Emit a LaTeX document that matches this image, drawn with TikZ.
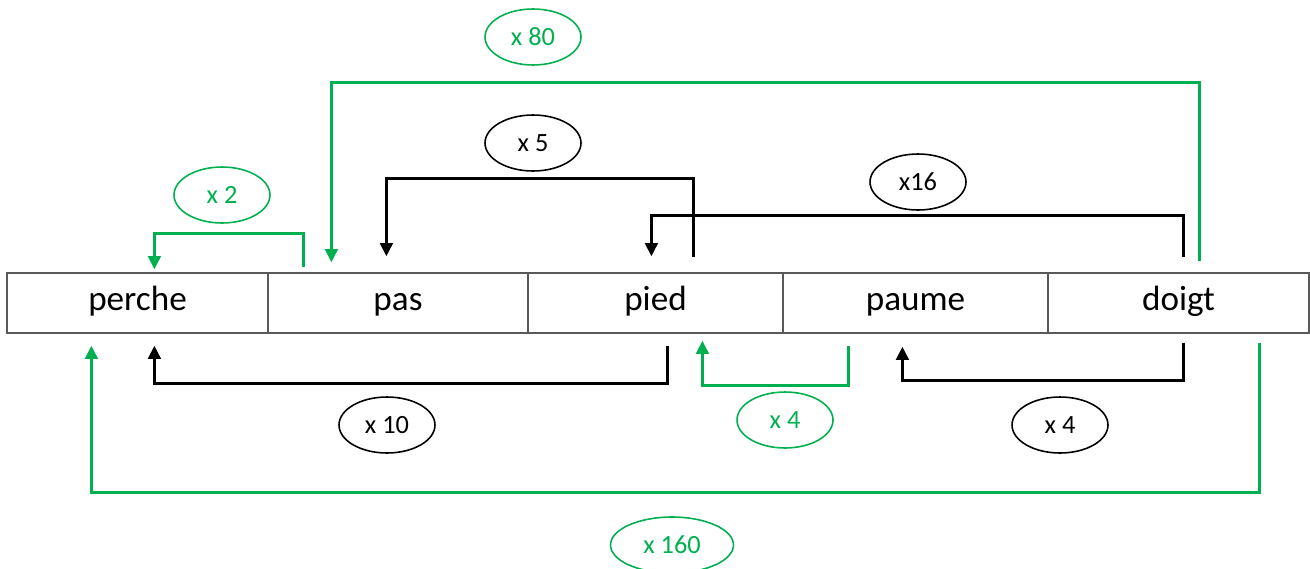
\documentclass[tikz,border=0pt]{standalone}
\usepackage{fontspec}
\setmainfont{Carlito}
\usetikzlibrary{calc,arrows.meta,shapes.geometric}
\definecolor{offgreen}{HTML}{00B050}
\definecolor{cellgray}{HTML}{595959}
\tikzset{
  cell/.style={draw=cellgray, line width=0.7pt, minimum height=1.2cm, inner sep=0pt, text height=0.98em, text depth=0.18em, font=\fontsize{20}{24}\selectfont},
  lbl/.style={ellipse, draw, line width=0.9pt, minimum width=1.92cm, minimum height=1.12cm, inner sep=0pt, font=\fontsize{15}{18}\selectfont},
  glbl/.style={lbl, draw=offgreen, text=offgreen},
  conn/.style={line width=2pt, -{Triangle[length=7.5pt,width=7pt]}},
  bconn/.style={conn, black},
  gconn/.style={conn, offgreen},
}
\begin{document}
\begin{tikzpicture}[x=0.02cm, y=-0.02cm]
\useasboundingbox (0,0) rectangle (1310,568);
% cells
\node[cell, minimum width=5.22cm] (perche) at (137.5,303) {perche};
\node[cell, minimum width=5.2cm]  (pas)    at (398,303) {pas};
\node[cell, minimum width=5.1cm]  (pied)   at (655.5,303) {pied};
\node[cell, minimum width=5.3cm]  (paume)  at (915.5,303) {paume};
\node[cell, minimum width=5.22cm] (doigt)  at (1178.5,303) {doigt};
% labels
\node[glbl] (l2)   at (222,195) {x 2};
\node[glbl] (l80)  at (533,37)  {x 80};
\node[lbl]  (l5)   at (533,143) {x 5};
\node[lbl]  (l16)  at (918,182) {x16};
\node[lbl]  (l10)  at (387,425) {x 10};
\node[glbl] (lg4)  at (785,420) {x 4};
\node[lbl]  (lb4)  at (1060,425) {x 4};
\node[glbl, minimum width=2.46cm] (l160) at (672,545) {x 160};
% connectors above
\draw[gconn] ($(pas.north west)+(36,-5)$) -- ++(0,-34) -| ($(perche.north west)+(148,-3)$);
\draw[gconn] ($(doigt.north west)+(152,-11)$) -- ++(0,-179) -| ($(pas.north west)+(64,-10)$);
\draw[bconn] ($(pied.north west)+(166,-15)$) -- ++(0,-79) -| ($(pas.north west)+(119,-16)$);
\draw[bconn] ($(doigt.north west)+(136,-15)$) -- ++(0,-42) -| ($(pied.north west)+(124,-16)$);
% connectors below
\draw[bconn] ($(pied.south west)+(140,12)$) -- ++(0,38) -| ($(perche.south west)+(148,12)$);
\draw[gconn] ($(paume.south west)+(66,12)$) -- ++(0,40) -| ($(pied.south west)+(175,7)$);
\draw[bconn] ($(doigt.south west)+(136,9)$) -- ++(0,38) -| ($(paume.south west)+(120,13)$);
\draw[gconn] ($(doigt.south west)+(212,9)$) -- ++(0,150) -| ($(perche.south west)+(85,12)$);
\end{tikzpicture}
\end{document}
